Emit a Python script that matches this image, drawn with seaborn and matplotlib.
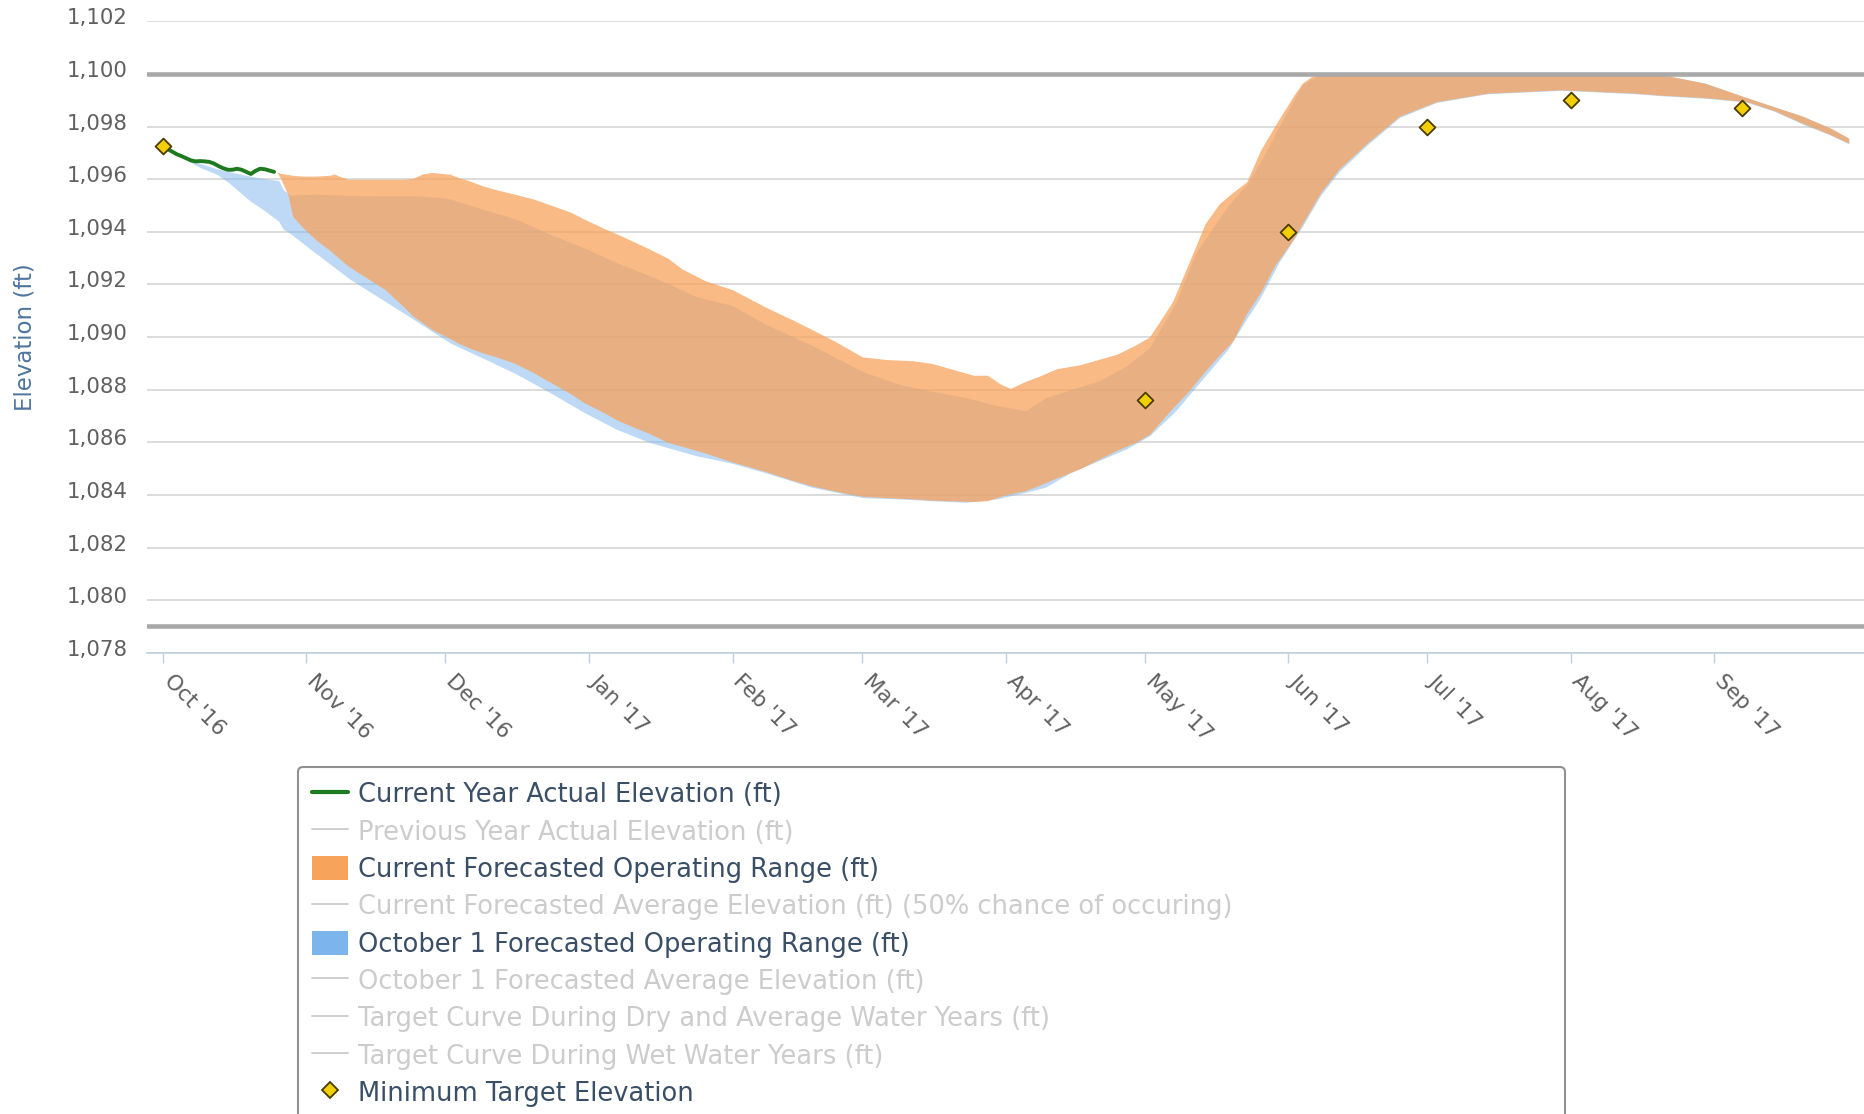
import numpy as np
import pandas as pd
import matplotlib
matplotlib.use("Agg")
import matplotlib.pyplot as plt
import matplotlib.transforms as mtransforms
from matplotlib.lines import Line2D
from matplotlib.patches import Patch
import seaborn as sns

# ---------------- data ----------------
start_date = "2016-10-01"

# Current Year Actual Elevation (days after Oct 1 2016)
actual_day = list(range(0, 25))
actual_elev = [1097.25, 1097.15, 1097.05, 1096.95, 1096.88, 1096.80, 1096.72, 1096.68,
               1096.69, 1096.68, 1096.66, 1096.60, 1096.50, 1096.42, 1096.36, 1096.36,
               1096.40, 1096.36, 1096.28, 1096.20, 1096.32, 1096.40, 1096.38, 1096.33,
               1096.28]

# Current Forecasted Operating Range
cur_day = [24.6, 25.5, 27, 28, 30, 33, 36, 37, 38, 40, 44, 48, 52, 54, 56, 58, 62, 64, 66,
           69, 72, 76, 80, 84, 88, 91, 95, 98, 102, 105, 109, 112, 117, 123, 130, 136, 140,
           145, 151, 156, 162, 166, 170, 175, 178, 181, 183, 186, 189, 193, 198, 202, 206,
           210, 213, 216, 218, 221, 225, 228, 231, 234, 237, 240, 244, 246, 248, 250, 254,
           260, 267, 275, 286, 302, 318, 323, 333, 342, 348, 354, 360, 364]
cur_high = [1096.28, 1096.22, 1096.18, 1096.15, 1096.12, 1096.12, 1096.15, 1096.20, 1096.12,
            1096.00, 1096.00, 1096.00, 1096.00, 1096.03, 1096.20, 1096.26, 1096.19, 1096.05,
            1095.95, 1095.75, 1095.60, 1095.43, 1095.25, 1095.00, 1094.75, 1094.48, 1094.15,
            1093.92, 1093.60, 1093.35, 1093.00, 1092.60, 1092.15, 1091.80, 1091.15, 1090.65,
            1090.30, 1089.85, 1089.25, 1089.15, 1089.10, 1089.00, 1088.80, 1088.55, 1088.55,
            1088.20, 1088.05, 1088.30, 1088.50, 1088.80, 1088.95, 1089.15, 1089.35, 1089.70,
            1090.00, 1090.80, 1091.35, 1092.60, 1094.30, 1095.05, 1095.50, 1095.90, 1097.10,
            1098.00, 1099.14, 1099.65, 1099.90, 1100.00, 1100.00, 1100.00, 1100.00, 1100.00,
            1100.00, 1100.00, 1100.00, 1100.00, 1099.65, 1099.10, 1098.75, 1098.40, 1097.95,
            1097.56]
cur_low = [1096.28, 1096.00, 1095.40, 1094.60, 1094.20, 1093.70, 1093.30, 1093.15, 1093.00,
           1092.70, 1092.25, 1091.80, 1091.15, 1090.80, 1090.55, 1090.30, 1089.94, 1089.75,
           1089.60, 1089.40, 1089.25, 1089.00, 1088.65, 1088.25, 1087.85, 1087.50, 1087.15,
           1086.85, 1086.55, 1086.34, 1086.00, 1085.85, 1085.60, 1085.25, 1084.90, 1084.55,
           1084.35, 1084.15, 1083.95, 1083.90, 1083.85, 1083.80, 1083.78, 1083.75, 1083.78,
           1083.95, 1084.05, 1084.15, 1084.35, 1084.65, 1085.00, 1085.35, 1085.70, 1086.00,
           1086.30, 1086.90, 1087.30, 1087.85, 1088.70, 1089.30, 1089.85, 1090.90, 1091.70,
           1092.70, 1093.70, 1094.30, 1094.90, 1095.50, 1096.40, 1097.37, 1098.40, 1098.95,
           1099.27, 1099.40, 1099.27, 1099.20, 1099.10, 1098.95, 1098.60, 1098.13, 1097.70,
           1097.37]

# October 1 Forecasted Operating Range
oct_day = [0, 2, 4.4, 8, 11.6, 14, 18.8, 22, 25, 26, 27.4, 33.2, 40.4, 47.6, 54.8, 60.5, 62,
           69.1, 76.3, 83.5, 90.7, 97.9, 105, 110, 115, 123, 130, 140, 151, 159, 166, 173.4,
           180, 186.3, 190.6, 196, 202, 208, 213, 218.7, 223, 230, 234, 236.8, 241, 246, 250,
           254, 260, 267, 275, 286, 302, 318, 323, 333, 342, 348, 354, 360, 364]
oct_high = [1097.25, 1097.00, 1096.82, 1096.60, 1096.40, 1096.30, 1096.12, 1096.02, 1095.95,
            1095.60, 1095.40, 1095.43, 1095.38, 1095.37, 1095.37, 1095.30, 1095.25, 1094.86,
            1094.48, 1093.92, 1093.41, 1092.84, 1092.34, 1091.96, 1091.55, 1091.20, 1090.50,
            1089.70, 1088.70, 1088.20, 1087.95, 1087.70, 1087.40, 1087.20, 1087.70, 1088.00,
            1088.33, 1088.90, 1089.60, 1091.30, 1093.20, 1095.00, 1095.80, 1096.60, 1098.00,
            1099.60, 1100.00, 1100.00, 1100.00, 1100.00, 1100.00, 1100.00, 1100.00, 1100.00,
            1100.00, 1099.65, 1099.10, 1098.75, 1098.40, 1097.95, 1097.56]
oct_low = [1097.25, 1097.00, 1096.80, 1096.45, 1096.19, 1095.90, 1095.18, 1094.80, 1094.40,
           1094.10, 1093.95, 1093.16, 1092.20, 1091.40, 1090.60, 1089.95, 1089.78, 1089.20,
           1088.60, 1087.90, 1087.16, 1086.50, 1086.00, 1085.75, 1085.50, 1085.20, 1084.85,
           1084.30, 1083.90, 1083.85, 1083.78, 1083.72, 1083.85, 1084.10, 1084.30, 1084.85,
           1085.30, 1085.75, 1086.25, 1087.20, 1088.10, 1089.55, 1090.70, 1091.45, 1092.85,
           1094.20, 1095.40, 1096.30, 1097.30, 1098.35, 1098.92, 1099.25, 1099.38, 1099.25,
           1099.18, 1099.08, 1098.93, 1098.58, 1098.10, 1097.68, 1097.35]

# Minimum Target Elevation
target_dates = ["2016-10-01", "2017-05-01", "2017-06-01", "2017-07-01", "2017-08-01",
                "2017-09-07"]
target_elev = [1097.25, 1087.6, 1094.0, 1098.0, 1099.0, 1098.7]

# plot lines (max / min)
max_line = 1100
min_line = 1079

month_ticks = ["2016-10-01", "2016-11-01", "2016-12-01", "2017-01-01", "2017-02-01",
               "2017-03-01", "2017-04-01", "2017-05-01", "2017-06-01", "2017-07-01",
               "2017-08-01", "2017-09-01"]
month_labels = ["Oct '16", "Nov '16", "Dec '16", "Jan '17", "Feb '17", "Mar '17",
                "Apr '17", "May '17", "Jun '17", "Jul '17", "Aug '17", "Sep '17"]
y_ticks = [1078, 1080, 1082, 1084, 1086, 1088, 1090, 1092, 1094, 1096, 1098, 1100, 1102]
y_label = "Elevation (ft)"

legend_labels = ["Current Year Actual Elevation (ft)",
                 "Previous Year Actual Elevation (ft)",
                 "Current Forecasted Operating Range (ft)",
                 "Current Forecasted Average Elevation (ft) (50% chance of occuring)",
                 "October 1 Forecasted Operating Range (ft)",
                 "October 1 Forecasted Average Elevation (ft)",
                 "Target Curve During Dry and Average Water Years (ft)",
                 "Target Curve During Wet Water Years (ft)",
                 "Minimum Target Elevation"]
legend_active = [True, False, True, False, True, False, False, False, True]

# ---------------- styling ----------------
sns.set_theme(style="white")
plt.rcParams["font.family"] = ["DejaVu Sans"]

ORANGE = "#f7a35c"
BLUE = "#7cb5ec"
GREEN = "#1e7a1e"
DIAMOND = "#f2cf00"
DIAMOND_EDGE = "#4a3c00"
GRID = "#d9d9d9"
PLOTLINE = "#a9a9a9"
TEXT = "#606060"
ACTIVE = "#3a4f66"
INACTIVE = "#cccccc"

t0 = pd.Timestamp(start_date)


def to_dates(days):
    return t0 + pd.to_timedelta(np.asarray(days, dtype=float), unit="D")


fig = plt.figure(figsize=(18.64, 11.14), dpi=100)
ax = fig.add_axes([0.0791, 0.414, 0.9209, 0.5668])

# bands
ax.fill_between(to_dates(oct_day), oct_low, oct_high, color=BLUE, alpha=0.5, lw=0, zorder=2)
ax.fill_between(to_dates(cur_day), cur_low, cur_high, color=ORANGE, alpha=0.75, lw=0, zorder=3)

# plot lines
ax.axhline(max_line, color=PLOTLINE, lw=3.3, zorder=4)
ax.axhline(min_line, color=PLOTLINE, lw=3.3, zorder=4)

# actual elevation line
sns.lineplot(x=to_dates(actual_day), y=actual_elev, color=GREEN, lw=2.8, ax=ax, zorder=5)

# minimum target diamonds
sns.scatterplot(x=pd.to_datetime(target_dates), y=target_elev, marker="D", s=65,
                color=DIAMOND, edgecolor=DIAMOND_EDGE, linewidth=1.3, ax=ax, zorder=6)

# axes limits
ax.set_xlim(t0 - pd.Timedelta(days=3.34), t0 + pd.Timedelta(days=367.3))
ax.set_ylim(1078, 1102)

# grid
ax.set_yticks(y_ticks)
ax.set_yticklabels([f"{v:,}" for v in y_ticks])
ax.grid(axis="y", color=GRID, lw=1.3)
ax.grid(axis="x", visible=False)
ax.set_axisbelow(True)

for side in ["top", "right", "left"]:
    ax.spines[side].set_visible(False)
ax.spines["bottom"].set_color("#c0d0e0")
ax.spines["bottom"].set_linewidth(1.2)

ax.set_xticks(pd.to_datetime(month_ticks))
ax.set_xticklabels(month_labels)
ax.tick_params(axis="x", direction="out", length=7, width=1, color="#c0d0e0",
               labelcolor=TEXT, labelsize=15.5, pad=11, bottom=True)
ax.tick_params(axis="y", length=0, labelcolor=TEXT, labelsize=15.3, pad=14)
xoff = mtransforms.ScaledTranslation(4 / 100, 0, fig.dpi_scale_trans)
for lab in ax.get_xticklabels():
    lab.set_rotation(-45)
    lab.set_ha("left")
    lab.set_va("center")
    lab.set_rotation_mode("anchor")
    lab.set_transform(lab.get_transform() + xoff)

offset = mtransforms.ScaledTranslation(0, 5 / 100, fig.dpi_scale_trans)
for lab in ax.get_yticklabels():
    lab.set_transform(lab.get_transform() + offset)

ax.set_xlabel("")
ax.set_ylabel(y_label, color="#4d759e", fontsize=16.5)
ax.yaxis.set_label_coords(-0.0645, 0.5)

# legend
handles = [
    Line2D([], [], color=GREEN, lw=3),
    Line2D([], [], color=INACTIVE, lw=1.3),
    Patch(facecolor=ORANGE, edgecolor="none"),
    Line2D([], [], color=INACTIVE, lw=1.3),
    Patch(facecolor=BLUE, edgecolor="none"),
    Line2D([], [], color=INACTIVE, lw=1.3),
    Line2D([], [], color=INACTIVE, lw=1.3),
    Line2D([], [], color=INACTIVE, lw=1.3),
    Line2D([], [], color=DIAMOND, marker="D", markersize=8, markeredgecolor=DIAMOND_EDGE,
           markeredgewidth=1.3, lw=0),
]
leg = fig.legend(handles, legend_labels, loc="upper left",
                 bbox_to_anchor=(0.160, 0.0, 0.6796, 0.3115), mode="expand",
                 fontsize=18.5, frameon=True, fancybox=True, borderpad=0.55,
                 labelspacing=0.4, handlelength=1.4, handleheight=1.1,
                 handletextpad=0.36, borderaxespad=0)
frame = leg.get_frame()
frame.set_edgecolor("#909090")
frame.set_linewidth(1.5)
frame.set_facecolor("white")
frame.set_alpha(1)
for txt, active in zip(leg.get_texts(), legend_active):
    txt.set_color(ACTIVE if active else INACTIVE)

fig.savefig("out.png", dpi=100)
